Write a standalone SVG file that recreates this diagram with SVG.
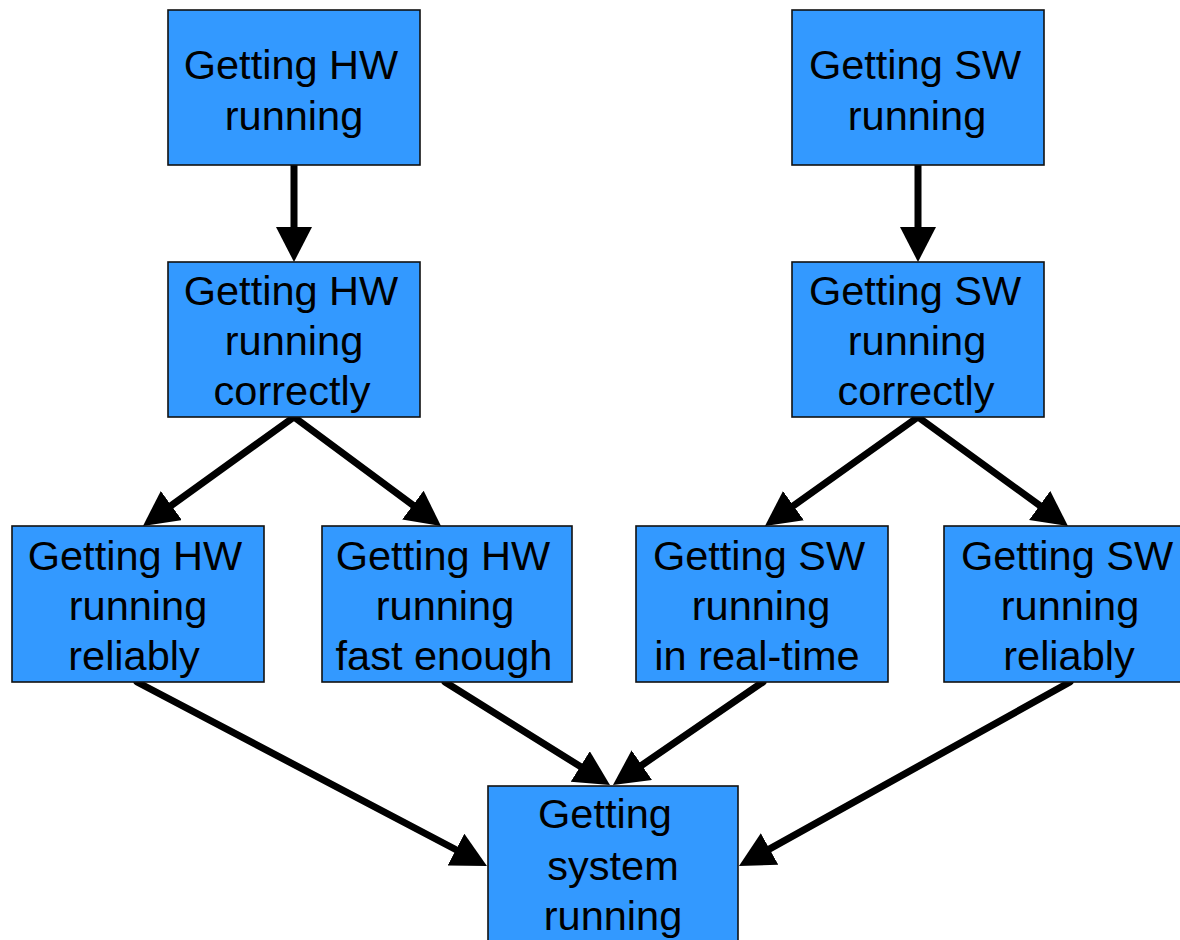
<svg xmlns="http://www.w3.org/2000/svg" width="1180" height="940" viewBox="0 0 1180 940">
  <style>
    .box { fill: #3399ff; stroke: #111; stroke-width: 1.6; }
    .lbl { font-family: "Liberation Sans", Arial, sans-serif; font-size: 41.5px; fill: #000; text-anchor: middle; }
    .edge { stroke: #000; stroke-width: 7; stroke-linecap: round; fill: none; marker-end: url(#head); }
  </style>
  <defs>
    <marker id="head" markerUnits="userSpaceOnUse" markerWidth="40" markerHeight="40" refX="5" refY="18" orient="auto" viewBox="0 0 40 40">
      <path d="M0,0 L35,18 L0,36 Z" fill="#000"/>
    </marker>
  </defs>
  <rect width="1180" height="940" fill="#fff"/>

  <g id="connectors">
    <line class="edge" x1="294" y1="165" x2="294" y2="232"/>
    <line class="edge" x1="918" y1="165" x2="918" y2="232"/>
    <line class="edge" x1="294" y1="417" x2="167.3" y2="508.4"/>
    <line class="edge" x1="294" y1="417" x2="416.9" y2="508.1"/>
    <line class="edge" x1="918" y1="417" x2="789.4" y2="508.6"/>
    <line class="edge" x1="918" y1="417" x2="1043.7" y2="508.4"/>
    <line class="edge" x1="137" y1="682" x2="460.4" y2="852"/>
    <line class="edge" x1="445" y1="682" x2="584.5" y2="769.1"/>
    <line class="edge" x1="763" y1="682" x2="637.7" y2="768"/>
    <line class="edge" x1="1070" y1="682" x2="765.2" y2="851.4"/>
  </g>

  <g id="hw-running">
    <rect class="box" x="168" y="10" width="252" height="155"/>
    <text class="lbl" x="291" y="79">Getting HW</text>
    <text class="lbl" x="294" y="130">running</text>
  </g>
  <g id="sw-running">
    <rect class="box" x="792" y="10" width="252" height="155"/>
    <text class="lbl" x="915" y="79">Getting SW</text>
    <text class="lbl" x="917" y="130">running</text>
  </g>
  <g id="hw-correct">
    <rect class="box" x="168" y="262" width="252" height="155"/>
    <text class="lbl" x="291" y="305">Getting HW</text>
    <text class="lbl" x="294" y="355">running</text>
    <text class="lbl" x="292" y="405">correctly</text>
  </g>
  <g id="sw-correct">
    <rect class="box" x="792" y="262" width="252" height="155"/>
    <text class="lbl" x="915" y="305">Getting SW</text>
    <text class="lbl" x="917" y="355">running</text>
    <text class="lbl" x="916" y="405">correctly</text>
  </g>
  <g id="hw-reliable">
    <rect class="box" x="12" y="526" width="252" height="156"/>
    <text class="lbl" x="135" y="570">Getting HW</text>
    <text class="lbl" x="138" y="620">running</text>
    <text class="lbl" x="134" y="670">reliably</text>
  </g>
  <g id="hw-fast">
    <rect class="box" x="322" y="526" width="250" height="156"/>
    <text class="lbl" x="443" y="570">Getting HW</text>
    <text class="lbl" x="445" y="620">running</text>
    <text class="lbl" x="444" y="670">fast enough</text>
  </g>
  <g id="sw-realtime">
    <rect class="box" x="636" y="526" width="252" height="156"/>
    <text class="lbl" x="759" y="570">Getting SW</text>
    <text class="lbl" x="761" y="620">running</text>
    <text class="lbl" x="757" y="670">in real-time</text>
  </g>
  <g id="sw-reliable">
    <rect class="box" x="944" y="526" width="252" height="156"/>
    <text class="lbl" x="1067" y="570">Getting SW</text>
    <text class="lbl" x="1070" y="620">running</text>
    <text class="lbl" x="1069" y="670">reliably</text>
  </g>
  <g id="system-running">
    <rect class="box" x="488" y="786" width="250" height="170"/>
    <text class="lbl" x="605" y="828">Getting</text>
    <text class="lbl" x="613" y="880">system</text>
    <text class="lbl" x="613" y="930">running</text>
  </g>
</svg>
